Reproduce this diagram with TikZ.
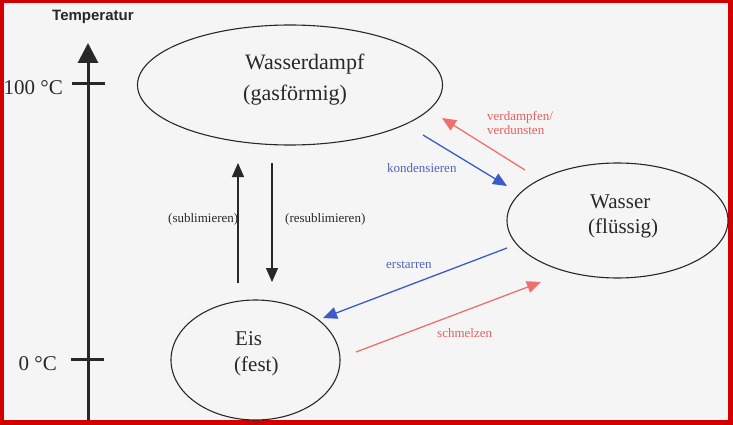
\documentclass[tikz,border=0pt]{standalone}
\usepackage{fontspec}
\setmainfont{Liberation Serif}
\setsansfont{Liberation Sans}
\usetikzlibrary{shapes.geometric,arrows.meta}
\definecolor{paper}{RGB}{245,245,245}
\definecolor{frame}{RGB}{210,0,0}
\definecolor{ink}{RGB}{40,40,40}
\definecolor{warm}{RGB}{240,112,112}
\definecolor{warmtext}{RGB}{228,96,96}
\definecolor{cold}{RGB}{60,90,200}
\definecolor{coldtext}{RGB}{80,100,190}
\tikzstyle{phase}=[draw=ink, line width=1.1pt, ellipse, inner sep=0pt]
\tikzstyle{statetext}=[font=\fontsize{21}{25}\selectfont, text=ink, inner sep=0pt, anchor=base west]
\tikzstyle{proclabel}=[font=\fontsize{13}{14}\selectfont, inner sep=0pt, anchor=base west]
\tikzstyle{change}=[line width=1.3pt, -{Triangle[length=14pt,width=12pt]}]
\tikzstyle{tempaxis}=[line width=3pt, draw=ink]

\begin{document}
\begin{tikzpicture} [x=1pt, y=-1pt]
%%frame
\useasboundingbox (0,0) rectangle (733,425);
\fill[frame] (0,0) rectangle (733,425);
\fill[paper] (4,3) rectangle (728,420);
%%axis
\coordinate (axisbot) at (88,420);
\coordinate (axistop) at (88,43);
\draw[tempaxis, -{Triangle[length=20pt,width=20pt]}] (axisbot) -- (axistop);
\path (52,21) node[anchor=base west, inner sep=0pt, font=\sffamily\bfseries\fontsize{15}{18}\selectfont, text=ink] (tlabel) {Temperatur};
%%ticks
\coordinate (hotl) at (72,84);
\coordinate (hotr) at (105,84);
\coordinate (coldl) at (71,359);
\coordinate (coldr) at (104,359);
\draw[tempaxis] (hotl) -- (hotr);
\draw[tempaxis] (coldl) -- (coldr);
\path (63,95) node[statetext, anchor=base east] (hundred) {100 °C};
\path (57,370) node[statetext, anchor=base east] (zero) {0 °C};
%%states
\node[phase, minimum width=305pt, minimum height=120pt] (dampf) at (290,85) {};
\node[phase, minimum width=221pt, minimum height=115pt] (wasser) at (617.5,220.5) {};
\node[phase, minimum width=169pt, minimum height=120pt] (eis) at (255.5,360) {};
%%names
\path (245,70) node[statetext, font=\fontsize{22}{25}\selectfont] (dampfa) {Wasserdampf};
\path (243,101) node[statetext, font=\fontsize{22}{25}\selectfont] (dampfb) {(gasförmig)};
\path (590,208) node[statetext] (wassera) {Wasser};
\path (588,233) node[statetext] (wasserb) {(flüssig)};
\path (235,345) node[statetext] (eisa) {Eis};
\path (234,371) node[statetext] (eisb) {(fest)};
%%sublimation
\coordinate (subl0) at (238,283);
\coordinate (subl1) at (238,163);
\coordinate (resub0) at (272,163);
\coordinate (resub1) at (272,282);
\draw[change, ink] (subl0) -- (subl1);
\draw[change, ink] (resub0) -- (resub1);
\path (168,222) node[proclabel, text=ink] (sublab) {(sublimieren)};
\path (285,222) node[proclabel, text=ink] (resublab) {(resublimieren)};
%%gas - liquid
\coordinate (verd0) at (525,170);
\coordinate (verd1) at (442,118);
\coordinate (kond0) at (423,135);
\coordinate (kond1) at (507,186);
\draw[change, warm] (verd0) -- (verd1);
\draw[change, cold] (kond0) -- (kond1);
\path (487,121) node[proclabel, text=warmtext] (verdlab) {verdampfen/};
\path (487,135) node[proclabel, text=warmtext] (verdlabb) {verdunsten};
\path (387,172) node[proclabel, text=coldtext] (kondlab) {kondensieren};
%%liquid - solid
\coordinate (erst0) at (507,248);
\coordinate (erst1) at (323,318);
\coordinate (schm0) at (356,352);
\coordinate (schm1) at (541,282);
\draw[change, cold] (erst0) -- (erst1);
\draw[change, warm] (schm0) -- (schm1);
\path (386,268) node[proclabel, text=coldtext] (erstlab) {erstarren};
\path (437,337) node[proclabel, text=warmtext] (schmlab) {schmelzen};
\end{tikzpicture}
\end{document}
